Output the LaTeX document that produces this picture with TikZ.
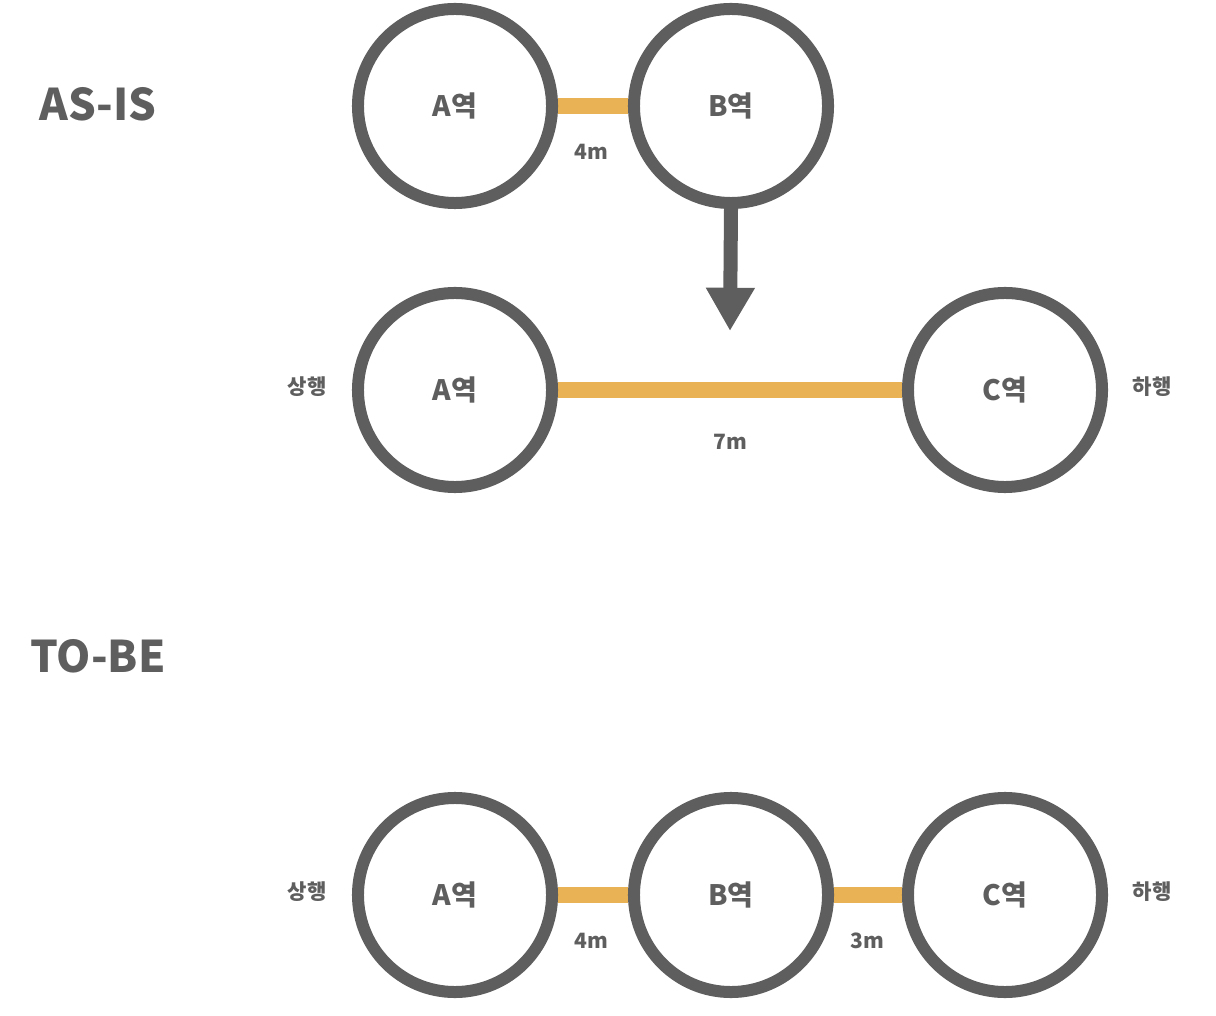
\documentclass[tikz,border=0pt]{standalone}
\usepackage{fontspec}
\setmainfont{Noto Sans CJK KR}
\usepackage{tikz}
\usetikzlibrary{arrows.meta, positioning, backgrounds}
\definecolor{dunkel}{HTML}{5E5E5E}
\definecolor{gleis}{HTML}{E9B254}

\begin{document}
\begin{tikzpicture}[
        x=0.025cm, y=-0.025cm,
        station/.style={draw=dunkel, circle, line width=0.3cm, inner sep=0pt,
                        minimum size=4.85cm, text=dunkel, font=\fontsize{20}{24}\selectfont\bfseries},
        track/.style={draw=gleis, line width=0.38cm},
        arr/.style={-{Triangle[width=1.15cm, length=1.08cm]}, draw=dunkel, line width=0.35cm},
        dist/.style={text=dunkel, font=\fontsize{15}{18}\selectfont\bfseries},
        dir/.style={text=dunkel, font=\fontsize{15}{18}\selectfont\bfseries},
        title/.style={text=dunkel, font=\fontsize{31}{36}\selectfont\bfseries}
      ]
      \useasboundingbox (0,0) rectangle (1216,1016);

      % Titel
      \node[title] (asis) at (98,104) {AS-IS};
      \node[title] (tobe) at (98,656) {TO-BE};

      % Zeile 1
      \node[station] (a1) at (455,106) {A역};
      \node[station] (b1) at (731,106) {B역};

      % Zeile 2
      \node[station] (a2) at (455,390) {A역};
      \node[station] (c2) at (1005,390) {C역};
      \node[dir] (up2) at (307,387) {상행};
      \node[dir] (down2) at (1152,387) {하행};

      % Zeile 3
      \node[station] (a3) at (455,895) {A역};
      \node[station] (b3) at (731,895) {B역};
      \node[station] (c3) at (1005,895) {C역};
      \node[dir] (up3) at (307,892) {상행};
      \node[dir] (down3) at (1152,892) {하행};

      % Gleise
      \begin{scope}[on background layer]
        \draw[track] (a1) -- (b1);
        \draw[track] (a2) -- (c2);
        \draw[track] (a3) -- (b3);
        \draw[track] (b3) -- (c3);
      \end{scope}

      % Abstaende
      \node[dist] (d1) at (591,152) {4m};
      \node[dist] (d2) at (730,442) {7m};
      \node[dist] (d3) at (591,941) {4m};
      \node[dist] (d4) at (867,941) {3m};

      % Pfeil
      \coordinate (tip) at (730,331);
      \draw[arr] (b1.south) -- (tip);
    \end{tikzpicture}
\end{document}
